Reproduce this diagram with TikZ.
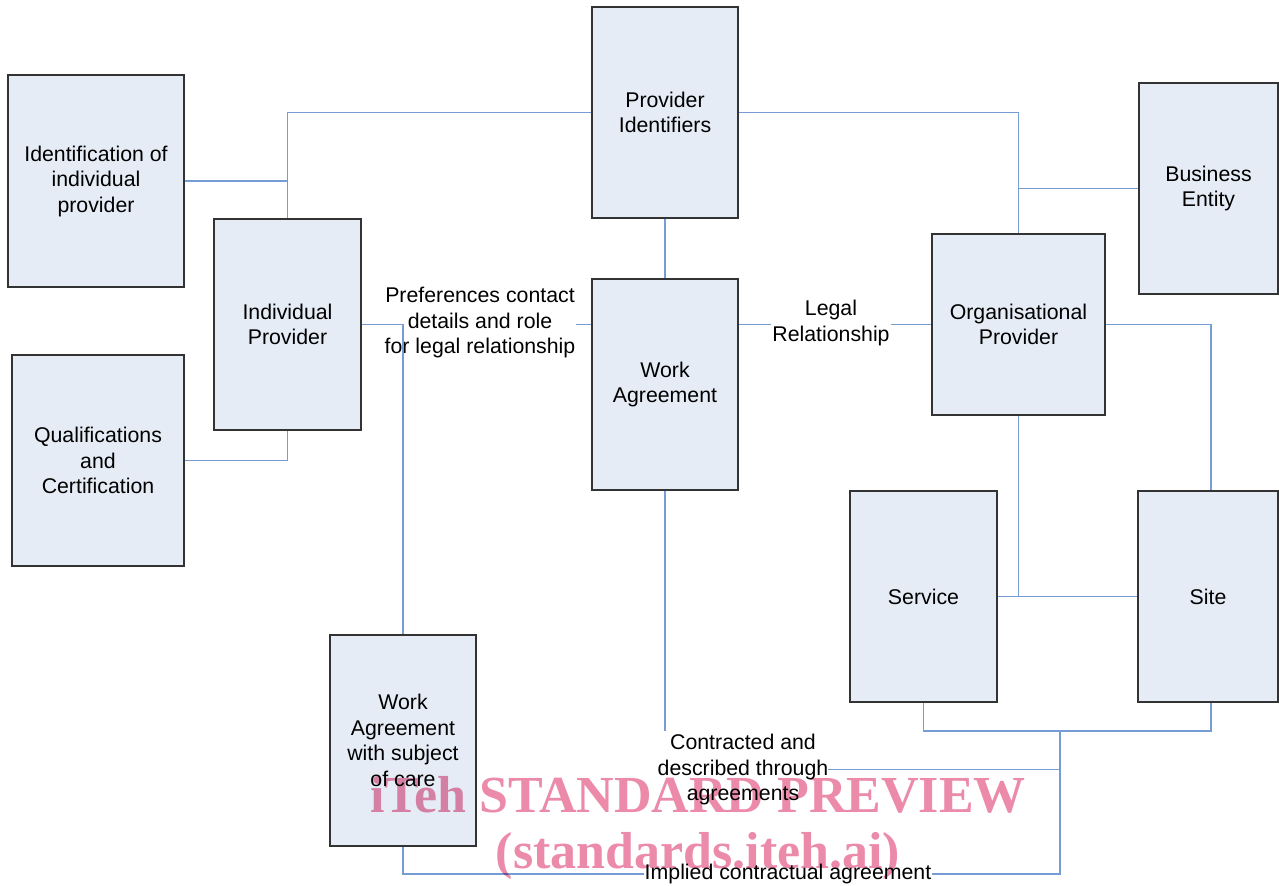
\documentclass[tikz,border=0pt]{standalone}
\usepackage{fontspec}
\setmainfont{Liberation Sans}
\newfontfamily\wmfont{Liberation Serif}
\definecolor{boxfill}{RGB}{230,236,246}
\definecolor{conn}{RGB}{118,156,214}
\definecolor{wm}{RGB}{236,138,170}
\begin{document}
\begin{tikzpicture}[x=1bp,y=-1bp,
  every node/.style={font=\fontsize{21.3bp}{25.5bp}\selectfont},
  box/.style={draw=black!80, fill=boxfill, line width=1.1bp, inner sep=0pt, align=center},
  lbl/.style={inner sep=0pt, align=center},
  wire/.style={draw=conn, line width=1.1bp},
  wmtext/.style={inner sep=0pt, text=wm, font=\wmfont\bfseries\fontsize{52bp}{60bp}\selectfont}]
\useasboundingbox (0,0) rectangle (1279,886);
% boxes
\node[box, minimum width=176bp, minimum height=212bp] (ident) at (96,181) {Identification of\\individual\\provider};
\node[box, minimum width=172bp, minimum height=211bp] (qual) at (98,460.5) {Qualifications\\and\\Certification};
\node[box, minimum width=147bp, minimum height=211bp] (indiv) at (287.5,324.5) {Individual\\Provider};
\node[box, minimum width=146bp, minimum height=211bp] (provid) at (665,112.5) {Provider\\Identifiers};
\node[box, minimum width=146bp, minimum height=211bp] (work) at (665,384.5) {Work\\Agreement};
\node[box, minimum width=139bp, minimum height=211bp] (busent) at (1208.5,188.5) {Business\\Entity};
\node[box, minimum width=173bp, minimum height=181bp] (org) at (1018.5,324.5) {Organisational\\Provider};
\node[box, minimum width=147bp, minimum height=211bp] (service) at (923.5,596.5) {Service};
\node[box, minimum width=140bp, minimum height=211bp] (site) at (1208,596.5) {Site};
\node[box, minimum width=146bp, minimum height=211bp] (wasc) at (403,740.5) {Work\\Agreement\\with subject\\of care};
% connectors
\draw[wire] (provid.west) -| (indiv.north);
\draw[wire] (ident.east) -- (indiv.north |- ident.east);
\draw[wire] (qual.east) -| (indiv.south);
\draw[wire] (provid.east) -| (org.north);
\draw[wire] (busent.west) -- (org.north |- busent.west);
\draw[wire] (provid.south) -- (work.north);
\draw[wire] (indiv.east) -- (work.west |- indiv.east);
\node[lbl, fill=white, inner xsep=1bp] (pref) at (480,323) {Preferences contact\\details and role\\for legal relationship};
\draw[wire] (indiv.east) -| (wasc.north);
\draw[wire] (work.east |- org.west) -- (org.west);
\node[lbl, fill=white, inner xsep=1bp] (legal) at (831,323) {Legal\\Relationship};
\draw[wire] (org.east) -| ([xshift=3bp]site.north);
\draw[wire] (org.south) -- (org.south |- service.east);
\draw[wire] (service.east) -- (site.west);
\coordinate (jx) at (1060,731);
\draw[wire] (service.south) |- (jx) -| ([xshift=3bp]site.south);
\coordinate (wend) at (665,731);
\draw[wire] (work.south) -- (wend);
\node[lbl] (contr) at (743,769.5) {Contracted and\\described through\\agreements};
\draw[wire] (contr.east) -- (jx |- contr.east);
\coordinate (jb) at (1060,874);
\draw[wire] (jx) -- (jb) -| (wasc.south);
\node[lbl, fill=white, inner xsep=1bp] (impl) at (788,874) {Implied contractual agreement};
% watermark
\begin{scope}[blend mode=multiply]
\node[wmtext] (wm1) at (698,795) {iTeh STANDARD PREVIEW};
\node[wmtext] (wm2) at (698,856) {(standards.iteh.ai)};
\end{scope}
\end{tikzpicture}
\end{document}
